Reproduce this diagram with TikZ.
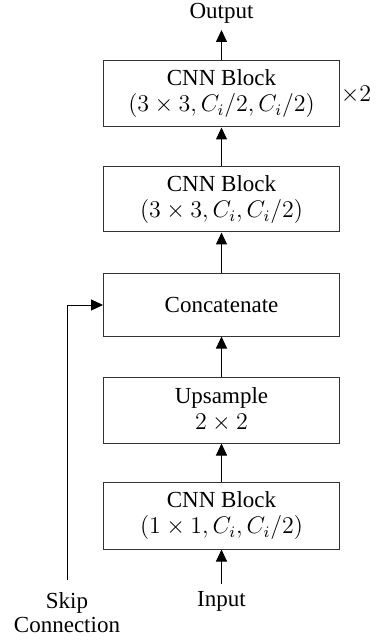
\documentclass[tikz,border=0pt]{standalone}
\usepackage{fontspec}
\setmainfont{Liberation Serif}
\usetikzlibrary{arrows.meta}
\begin{document}
\begin{tikzpicture}[x=0.5pt,y=-0.5pt,
  blk/.style={draw=black!80,line width=0.5pt,minimum width=118pt,inner sep=0pt,align=center,font=\fontsize{11.5}{13}\selectfont},
  lbl/.style={inner sep=0pt,align=center,font=\fontsize{11.5}{12}\selectfont},
  arr/.style={line width=0.5pt,-{Triangle[length=6pt,width=5.5pt]}}]
\useasboundingbox (0,0) rectangle (376,641);
\node[blk,minimum height=33pt] (b1) at (221.5,94) {CNN Block\\$(3\times3,C_i/2,C_i/2)$};
\node[blk,minimum height=32.5pt] (b2) at (221.5,199.5) {CNN Block\\$(3\times3,C_i,C_i/2)$};
\node[blk,minimum height=31pt] (b3) at (221.5,305) {Concatenate};
\node[blk,minimum height=33pt] (b4) at (221.5,410) {Upsample\\$2\times2$};
\node[blk,minimum height=33.5pt] (b5) at (221.5,515.5) {CNN Block\\$(1\times1,C_i,C_i/2)$};
\node[lbl] (times) at (356,95) {$\times2$};
\node[lbl] (out) at (221.5,13) {Output};
\node[lbl] (in) at (221.5,601) {Input};
\node[lbl] (skip) at (67,613) {Skip\\Connection};
\coordinate (outend) at (221.5,30);
\coordinate (inend) at (221.5,584);
\coordinate (skipend) at (67,580);
\draw[arr] (b1.north) -- (outend);
\draw[arr] (b2.north) -- (b1.south);
\draw[arr] (b3.north) -- (b2.south);
\draw[arr] (b4.north) -- (b3.south);
\draw[arr] (b5.north) -- (b4.south);
\draw[arr] (inend) -- (b5.south);
\draw[arr] (skipend) |- (b3.west);
\end{tikzpicture}
\end{document}
